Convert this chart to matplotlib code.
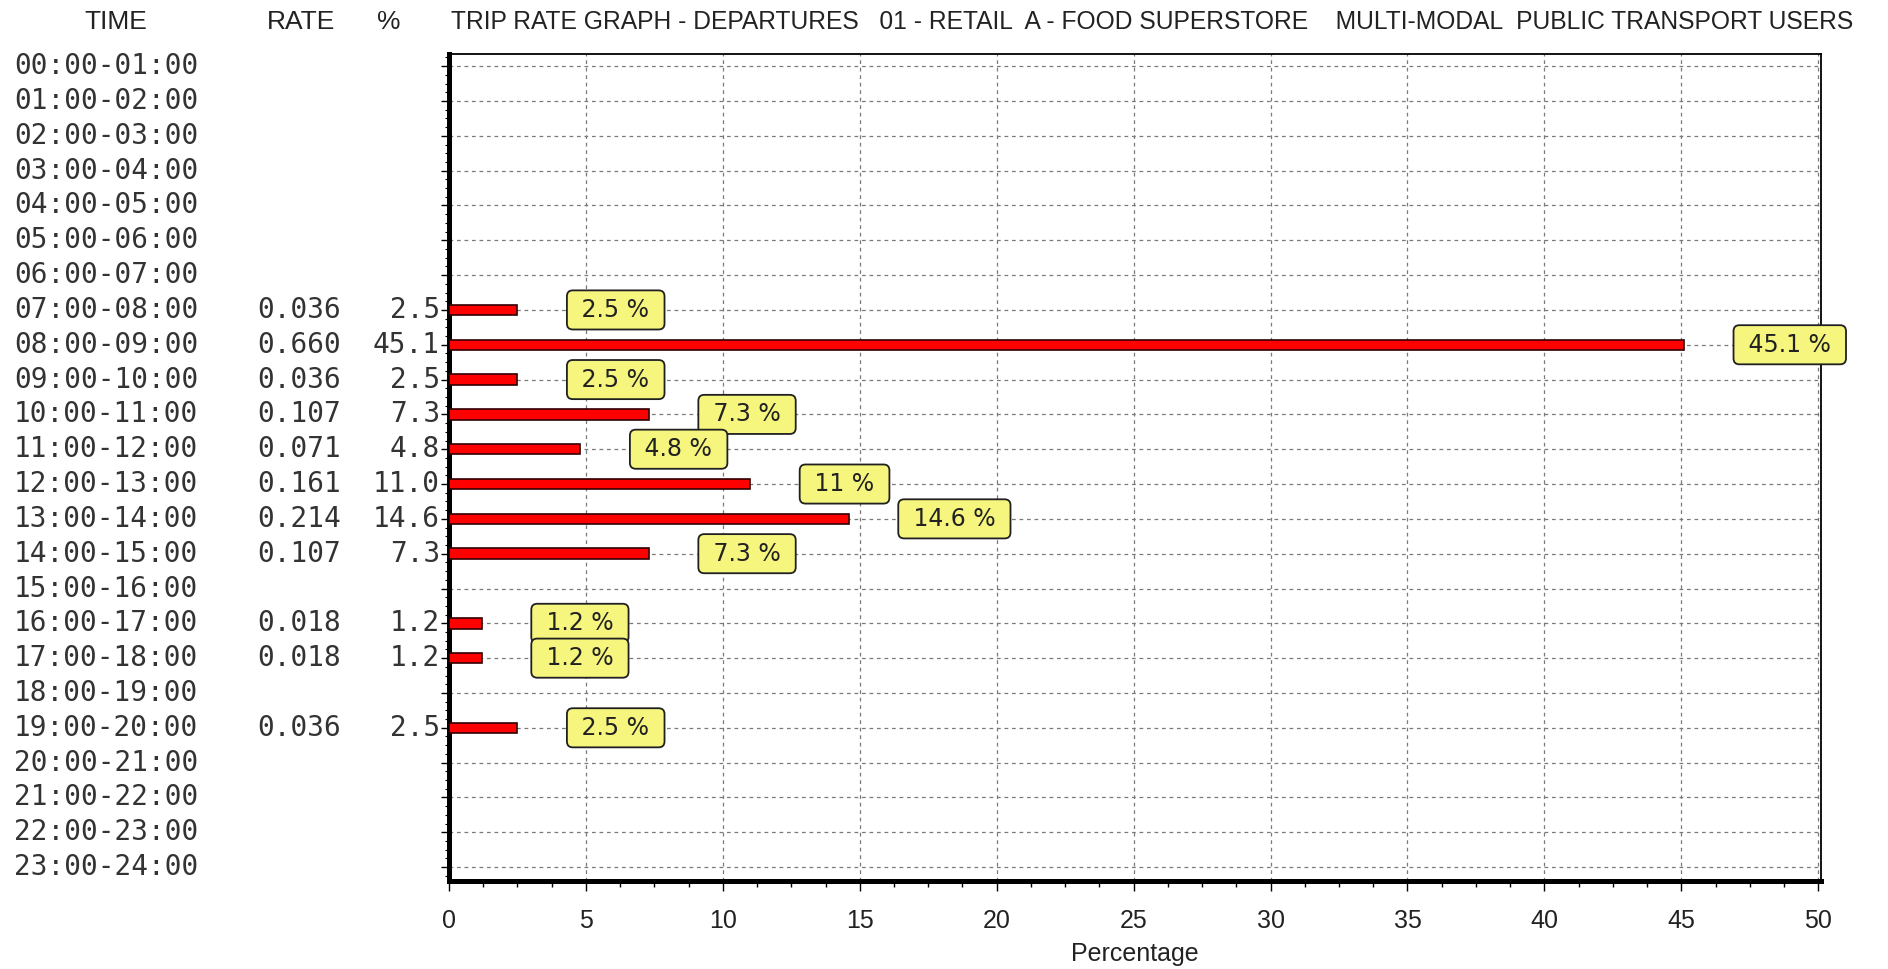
import matplotlib.pyplot as plt
import matplotlib.transforms as mtransforms
from matplotlib.ticker import MultipleLocator

# hourly departures, public transport users
times = [f"{h:02d}:00-{h + 1:02d}:00" for h in range(24)]
rates = [None] * 7 + [0.036, 0.660, 0.036, 0.107, 0.071, 0.161, 0.214, 0.107,
                      None, 0.018, 0.018, None, 0.036, None, None, None, None]
pcts = [None] * 7 + [2.5, 45.1, 2.5, 7.3, 4.8, 11.0, 14.6, 7.3,
                     None, 1.2, 1.2, None, 2.5, None, None, None, None]

title = ("TRIP RATE GRAPH - DEPARTURES   01 - RETAIL  A - FOOD SUPERSTORE    "
         "MULTI-MODAL  PUBLIC TRANSPORT USERS")

sans = 'Liberation Sans'
mono = 'DejaVu Sans Mono'

fig = plt.figure(figsize=(18.88, 9.69), dpi=100)
ax = fig.add_axes([449 / 1888, 1 - 881 / 969, 1372 / 1888, 827 / 969])

rows = list(range(len(times)))
bar_rows = [r for r in rows if pcts[r] is not None]
bar_vals = [pcts[r] for r in bar_rows]
ax.barh(bar_rows, bar_vals, height=0.3, color='#ff0000',
        edgecolor='#300000', linewidth=1.2, zorder=3)

ax.set_xlim(0, 50.1)
ax.set_ylim(23.4, -0.35)

# grid
ax.set_xticks(range(0, 51, 5))
ax.xaxis.set_minor_locator(MultipleLocator(1.25))
ax.set_yticks(rows)
ax.yaxis.set_minor_locator(MultipleLocator(0.25))
ax.set_yticklabels([])
ax.grid(True, which='major', color='#7a7a7a', linestyle=(0, (3, 3)), linewidth=0.9, zorder=0)
ax.tick_params(axis='x', which='major', length=7, width=1, pad=13, labelsize=18)
ax.tick_params(axis='x', which='minor', length=4, width=1)
ax.tick_params(axis='y', which='major', length=6, width=1)
ax.tick_params(axis='y', which='minor', length=3, width=0.8)
for lab in ax.get_xticklabels():
    lab.set_family(sans)
    lab.set_color('#222222')

ax.spines['left'].set_linewidth(3.6)
ax.spines['bottom'].set_linewidth(3.6)
ax.spines['top'].set_linewidth(1.3)
ax.spines['right'].set_linewidth(1.3)

ax.set_xlabel('Percentage', fontsize=18, family=sans, color='#222222', labelpad=7)

# value boxes
for r, v in zip(bar_rows, bar_vals):
    ax.annotate(f" {v:g} % ", xy=(v, r), xytext=(57, 0), textcoords='offset pixels',
                ha='left', va='center', fontsize=17, family='DejaVu Sans', zorder=5,
                color='#222222',
                bbox=dict(boxstyle='round,pad=0.32,rounding_size=0.25',
                          facecolor='#f6f67e', edgecolor='#202020', linewidth=1.3))

# table columns left of the axis
tr = mtransforms.blended_transform_factory(fig.transFigure, ax.transData)
for r in rows:
    ax.text(14 / 1888, r, times[r], transform=tr, ha='left', va='center',
            fontsize=20, family=mono, color='#333333')
    if rates[r] is not None:
        ax.text(341 / 1888, r, f"{rates[r]:.3f}", transform=tr, ha='right', va='center',
                fontsize=20, family=mono, color='#333333')
        ax.text(440 / 1888, r, f"{pcts[r]:.1f}", transform=tr, ha='right', va='center',
                fontsize=20, family=mono, color='#333333')

hy = 1 - 22 / 969
fig.text(116 / 1888, hy, 'TIME', ha='center', va='center', fontsize=19, family=sans, color='#222222')
fig.text(301 / 1888, hy, 'RATE', ha='center', va='center', fontsize=19, family=sans, color='#222222')
fig.text(389 / 1888, hy, '%', ha='center', va='center', fontsize=19, family=sans, color='#222222')
head = fig.text(451 / 1888, hy, title, ha='left', va='center', fontsize=19, family=sans, color='#222222')

# squeeze the heading into the space right of the axis start
fig.canvas.draw()
w = head.get_window_extent().width
if w > 1400:
    head.set_fontsize(19 * 1400 / w)

fig.savefig('out.png', dpi=100, facecolor='white')
